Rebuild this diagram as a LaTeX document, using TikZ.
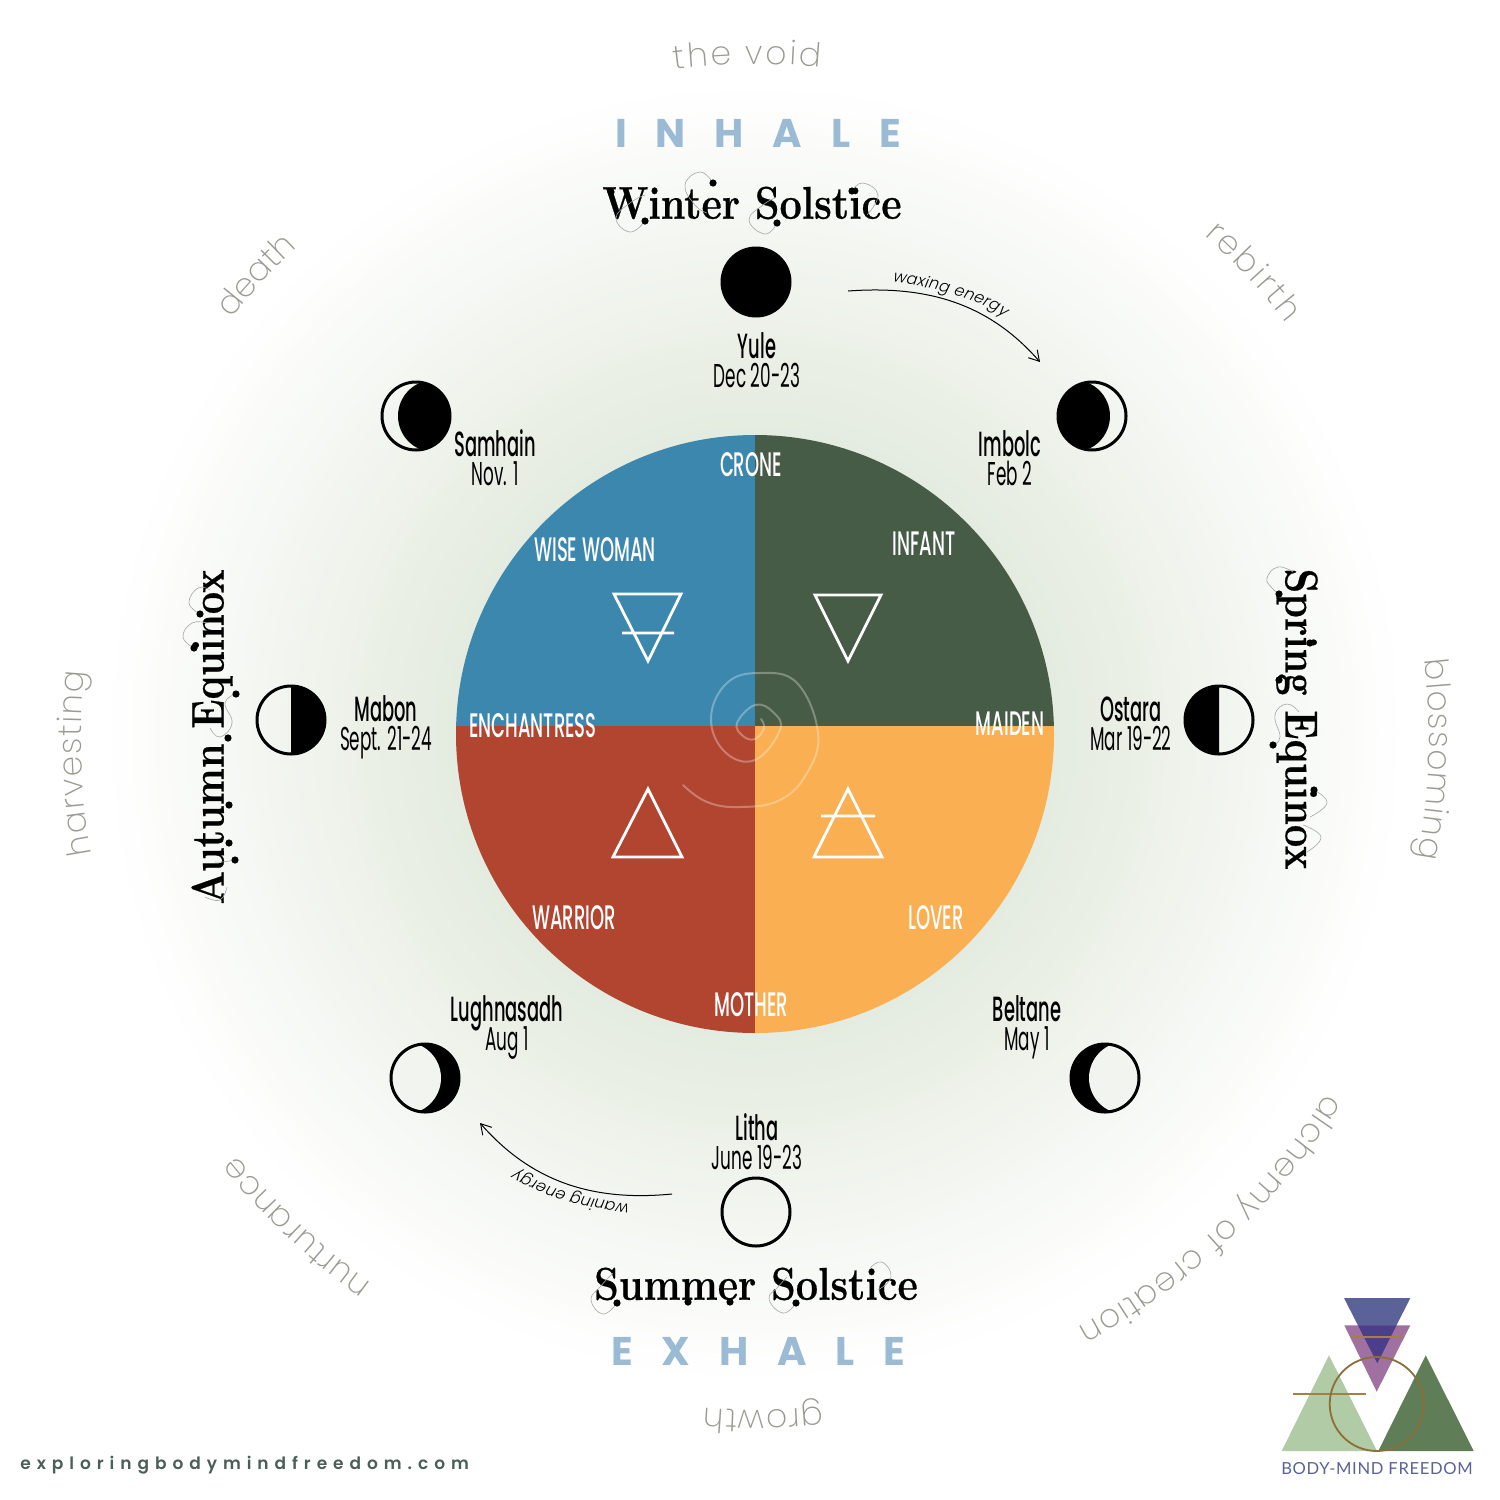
\documentclass[tikz,border=0pt]{standalone}
\usepackage{fontspec}
\usetikzlibrary{decorations.text,arrows.meta}
\newfontfamily\condfont[FakeStretch=0.53]{Poppins Medium}
\newfontfamily\namefont[FakeStretch=0.51]{Poppins Medium}
\newfontfamily\datefont[FakeStretch=0.51]{Poppins}
\newfontfamily\thinfont{Poppins ExtraLight}
\newfontfamily\smallfont[FakeSlant=0.2]{Poppins Light}
\newfontfamily\breathfont[LetterSpace=72]{Poppins Bold}
\newfontfamily\webfont[LetterSpace=35]{Poppins SemiBold}
\newfontfamily\logofont[LetterSpace=4]{Lato}
\newfontfamily\titlefont[FakeStretch=0.86,FakeBold=0.5]{Latin Modern Roman}
\definecolor{bluequad}{HTML}{3B87AE}
\definecolor{greenquad}{HTML}{475C47}
\definecolor{orangequad}{HTML}{F9AF52}
\definecolor{redquad}{HTML}{B24530}
\definecolor{halo}{HTML}{E4EBDF}
\definecolor{moonlight}{HTML}{F2F5EF}
\definecolor{voidgray}{HTML}{989B90}
\definecolor{breath}{HTML}{9BBBD4}
\definecolor{webcolor}{HTML}{4A5F56}
\definecolor{logoblue}{HTML}{5A6299}
\definecolor{logopurple}{HTML}{A070A0}
\definecolor{logoover}{HTML}{4B3E8A}
\definecolor{logolight}{HTML}{B0CBA5}
\definecolor{logodark}{HTML}{5F7E57}
\definecolor{logobrown}{HTML}{A5813F}
\newcommand{\voidstyle}{\thinfont\fontsize{16.5}{17}\selectfont\color{voidgray}}
\newcommand{\curved}[4]{% angle a, angle b, radius, text
  \path[decorate,decoration={text along path,text align={fit to path},text={|\voidstyle|#4}}]
    plot[domain=#1:#2,samples=80] ({757+#3*cos(\x)},{-737+#3*sin(\x)});}
\newcommand{\moonring}[3]{\node[moonbase] (#1) at (#2,-#3) {};}
% half moons
\newcommand{\moonA}[2]{\fill[shift={(#1,-#2)}] (0,35) arc[start angle=90,end angle=-90,radius=35] -- cycle;}
\newcommand{\moonB}[2]{\fill[shift={(#1,-#2)}] (0,35) arc[start angle=90,end angle=270,radius=35] -- cycle;}
% lens of the disc and the same disc offset by #3
\newcommand{\moonlens}[4]{\begin{scope}\clip (#1,-#2) circle[radius=34.5];\fill[#4] ({#1+#3},-#2) circle[radius=36];\end{scope}}
\tikzset{
  x=0.5pt,y=0.5pt,
  moonbase/.style={circle,draw=black,line width=1.5pt,inner sep=0pt,minimum size=34pt},
  glyph/.style={draw=white,line width=1.4pt,line join=miter},
  quadlabel/.style={text=white,font=\condfont\fontsize{17}{17}\selectfont,inner sep=0pt},
  festname/.style={align=center,text=black,inner sep=0pt,font=\fontsize{16}{14.5}\selectfont},
  title/.style={font=\titlefont\bfseries\fontsize{23}{23}\selectfont,text=black,inner sep=0pt},
  breathing/.style={font=\breathfont\fontsize{20}{20}\selectfont,text=breath,inner sep=0pt},
  swash/.style={draw=gray!70,line width=0.3pt},
}
\newcommand{\fest}[2]{\smash{\namefont\fontsize{17.5}{14.5}\selectfont #1}\\\smash{\datefont\fontsize{16.5}{14.5}\selectfont #2}}
\newcommand{\sw}[1]{\draw[swash] plot[smooth,tension=0.8] coordinates {#1};}
\newcommand{\ball}[2]{\fill (#1,-#2) circle[radius=3.6];}
\begin{document}
\begin{tikzpicture}
\useasboundingbox (0,0) rectangle (1500,-1500);
\fill[white] (0,0) rectangle (1500,-1500);
\foreach \i in {0,...,50}{
  \pgfmathsetmacro{\rr}{650-\i*7}
  \pgfmathsetmacro{\pp}{100*\i/50}
  \fill[halo!\pp!white] (755,-733) circle[radius=\rr];
}
% wheel
\begin{scope}
\clip (755,-734) circle[radius=299];
\fill[bluequad] (450,-430) rectangle (755,-726);
\fill[greenquad] (755,-430) rectangle (1060,-726);
\fill[redquad] (450,-726) rectangle (755,-1040);
\fill[orangequad] (755,-726) rectangle (1060,-1040);
\end{scope}
% spiral
\draw[white,opacity=0.3,line width=1pt,line cap=round] plot[smooth,tension=0.7] coordinates {(761,-719) (764,-728) (755,-739) (743,-736) (737,-723) (755,-705) (773,-712) (780,-730) (755,-760) (725,-752) (711,-718) (727,-683) (760,-673) (797,-683) (818,-733) (807,-773) (780,-800) (740,-807) (707,-802) (683,-785)};
% glyphs
\draw[glyph] (614,-594) -- (681,-594) -- (648,-661) -- cycle (622,-633) -- (674,-633);
\draw[glyph] (815,-595) -- (881,-595) -- (848,-661) -- cycle;
\draw[glyph] (648,-789) -- (613,-857) -- (682,-857) -- cycle;
\draw[glyph] (848,-789) -- (814,-857) -- (882,-857) -- cycle (821,-816) -- (875,-816);
% quadrant labels
\node[quadlabel] (crone) at (751,-465) {CRONE};
\node[quadlabel] (wise) at (595,-550) {WISE WOMAN};
\node[quadlabel] (infant) at (924,-544) {INFANT};
\node[quadlabel] (ench) at (533,-726) {ENCHANTRESS};
\node[quadlabel] (maiden) at (1010,-724) {MAIDEN};
\node[quadlabel] (warrior) at (574,-918) {WARRIOR};
\node[quadlabel] (lover) at (936,-918) {LOVER};
\node[quadlabel] (mother) at (751,-1005) {MOTHER};
% moons
\node[moonbase,fill=black] (yule) at (756,-282) {};
\node[moonbase] (litha) at (756,-1212) {};
\moonlens{416}{416}{18}{black}\moonring{samhainm}{416}{416}
\moonlens{1092}{416}{-18}{black}\moonring{imbolcm}{1092}{416}
\moonA{291}{720}\moonring{mabonm}{291}{720}
\moonB{1219}{720}\moonring{ostaram}{1219}{720}
\fill (1105,-1078) circle[radius=35];\moonlens{1105}{1078}{20}{moonlight}\moonring{beltanem}{1105}{1078}
\fill (425,-1078) circle[radius=35];\moonlens{425}{1078}{-20}{moonlight}\moonring{lughm}{425}{1078}
% festival labels
\node[festname] (yulet) at (757,-373) {\fest{Yule}{Dec 20-23}};
\node[festname] (samt) at (495,-471) {\fest{Samhain}{Nov. 1}};
\node[festname] (imbt) at (1010,-471) {\fest{Imbolc}{Feb 2}};
\node[festname] (mabt) at (386,-736) {\fest{Mabon}{Sept. 21-24}};
\node[festname] (ostt) at (1131,-736) {\fest{Ostara}{Mar 19-22}};
\node[festname] (lught) at (507,-1036) {\fest{Lughnasadh}{Aug 1}};
\node[festname] (belt) at (1027,-1036) {\fest{Beltane}{May 1}};
\node[festname] (litt) at (757,-1155) {\fest{Litha}{June 19-23}};
% titles
\node[title] (ws) at (752,-203) {Winter Solstice};
\node[title] (ss) at (756,-1284) {Summer Solstice};
\node[title,rotate=-90] (se) at (1297,-719) {Spring Equinox};
\node[title,rotate=90] (ae) at (212,-737) {Autumn Equinox};
% swashes of the titles
\sw{(645,-221) (630,-232) (616,-218) (630,-203) (645,-195)}
\sw{(713,-183) (700,-172) (685,-185) (695,-205) (707,-213)}
\sw{(777,-223) (765,-234) (749,-220) (763,-205) (775,-198)}
\sw{(852,-191) (863,-183) (878,-195) (867,-215)}
\ball{611}{192}\ball{645}{221}\ball{713}{183}\ball{777}{223}\ball{852}{191}
\sw{(617,-1303) (603,-1314) (591,-1300) (600,-1287) (613,-1273)}
\sw{(796,-1303) (783,-1313) (769,-1299) (778,-1287) (787,-1277)}
\sw{(870,-1268) (882,-1262) (891,-1277) (878,-1290)}
\ball{617}{1303}\ball{688}{1302}\ball{730}{1302}\ball{796}{1303}
\sw{(1279,-594) (1272,-588) (1267,-578) (1278,-567) (1293,-572)}
\sw{(1273,-745) (1280,-737) (1275,-715) (1287,-704) (1299,-712)}
\sw{(1314,-790) (1327,-803) (1310,-817)}
\sw{(1303,-825) (1321,-837) (1307,-852)}
\ball{1279}{594}\ball{1310}{643}\ball{1279}{680}\ball{1273}{745}\ball{1314}{790}
\sw{(200,-614) (189,-603) (198,-588) (210,-590)}
\sw{(194,-648) (183,-637) (192,-623) (207,-623)}
\sw{(236,-694) (225,-703) (232,-723) (220,-737) (210,-728)}
\sw{(235,-860) (222,-862) (215,-862)}
\sw{(227,-887) (220,-900) (205,-897)}
\ball{200}{614}\ball{194}{648}\ball{236}{694}\ball{228}{738}\ball{229}{805}\ball{229}{843}\ball{235}{860}
\node[breathing] (inhale) at (758,-133) {INHALE};
\node[breathing] (exhale) at (758,-1351) {EXHALE};
% arrows
\coordinate (wa) at (848,-291); \coordinate (wb) at (1040,-362);
\coordinate (na) at (672,-1194); \coordinate (nb) at (480,-1123);
\draw[-{Straight Barb[length=5pt,width=6pt]},line width=0.5pt] (wa) .. controls (930,-285) and (990,-305) .. (wb);
\draw[-{Straight Barb[length=5pt,width=6pt]},line width=0.5pt] (na) .. controls (590,-1202) and (530,-1180) .. (nb);
\path[decorate,decoration={text along path,text align={fit to path},text={|\smallfont\fontsize{8}{9}\selectfont|waxing energy}}] (892,-282) .. controls (935,-288) and (975,-297) .. (1004,-317);
\path[decorate,decoration={text along path,text align={fit to path},text={|\smallfont\fontsize{8}{9}\selectfont|waning energy}}] (630,-1204) .. controls (590,-1200) and (550,-1190) .. (516,-1170);
% outer ring
\curved{97}{84.6}{673}{the void}
\curved{48.3}{38.0}{672}{rebirth}
\curved{6.6}{-10.4}{672}{blossoming}
\curved{-32.0}{-61.5}{672}{alchemy of creation}
\curved{-84.4}{-94.5}{673}{growth}
\curved{-125.2}{-141.2}{668}{nurturance}
\curved{-170}{-185.6}{676}{harvesting}
\curved{141.5}{133.2}{672}{death}
% footer
\node[font=\webfont\fontsize{8.5}{9}\selectfont,text=webcolor,inner sep=0pt,anchor=west] (web) at (20,-1465) {exploringbodymindfreedom.com};
% logo
\fill[logoblue] (1344,-1298) -- (1410.3,-1298) -- (1377.3,-1363.3) -- cycle;
\fill[logopurple] (1344.3,-1325.3) -- (1410.3,-1325.3) -- (1376.7,-1391.7) -- cycle;
\fill[logoover] (1357.9,-1325.3) -- (1396.5,-1325.3) -- (1377.3,-1363.3) -- cycle;
\fill[logolight] (1329,-1355.3) -- (1281.7,-1451) -- (1377,-1451) -- cycle;
\fill[logodark] (1425.7,-1355.3) -- (1378.3,-1451) -- (1473.7,-1451) -- cycle;
\draw[logobrown,line width=0.9pt] (1351.7,-1337.3) -- (1403.3,-1337.3);
\draw[logobrown,line width=0.9pt] (1292.7,-1393.7) -- (1365.7,-1393.7);
\draw[logobrown!85!black,line width=0.9pt] (1376.7,-1404) circle[radius=47];
\node[font=\logofont\fontsize{8.3}{8}\selectfont,text=logoblue,inner sep=0pt] (logot) at (1377,-1469) {BODY-MIND FREEDOM};
\end{tikzpicture}
\end{document}
